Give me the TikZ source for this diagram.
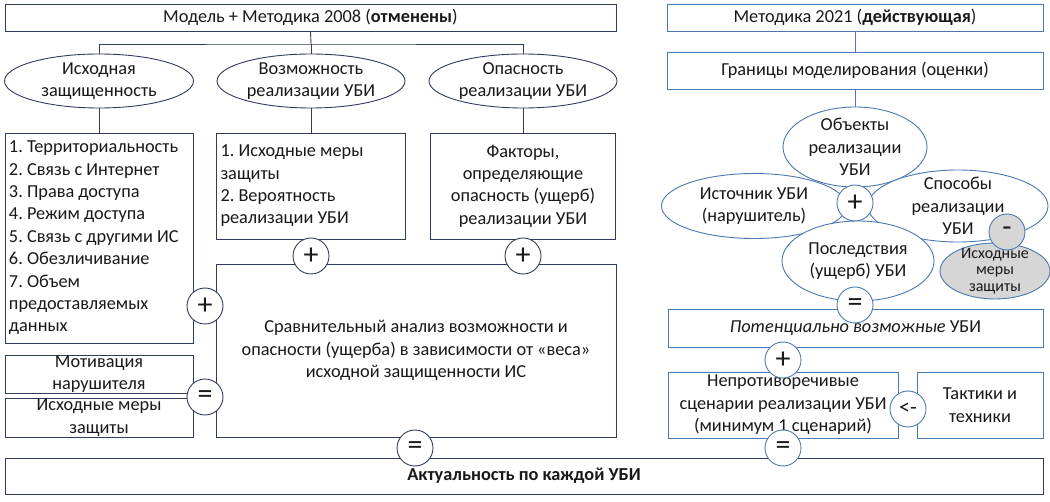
\documentclass[tikz,border=0pt]{standalone}
\usepackage{fontspec}
\setmainfont{Carlito}
\usetikzlibrary{shapes.geometric}
\definecolor{oldc}{RGB}{47,60,90}
\definecolor{newc}{RGB}{74,120,176}
\definecolor{greyc}{RGB}{214,214,214}
\frenchspacing

\begin{document}
\begin{tikzpicture}[
  x=1pt, y=-1pt,
  line width=0.9pt,
  every node/.style={font=\fontsize{18.3}{22.4}\selectfont, text=black!90},
  oldbox/.style={draw=oldc, fill=white, rectangle, inner sep=0pt, align=center},
  newbox/.style={draw=newc, fill=white, rectangle, inner sep=0pt, align=center},
  oval/.style={draw=oldc, fill=white, ellipse, inner sep=0pt},
  newoval/.style={draw=newc, fill=white, ellipse, inner sep=0pt},
  sign/.style={draw=oldc, fill=white, circle, minimum size=36pt, inner sep=0pt, font=\fontsize{30}{30}\selectfont},
  newsign/.style={sign, draw=newc}
]
\useasboundingbox (0,0) rectangle (1050,502);

% Model + Method 2008
\node [oldbox, minimum width=611pt, minimum height=27pt] (m08) at (310.5,17.5) {Модель + Методика 2008 (\textbf{отменены})};
\node [oval, minimum width=189pt, minimum height=54pt, label={[align=center]center:Исходная\\защищенность}] (ish) at (99,81) {};
\node [oval, minimum width=188pt, minimum height=54pt, label={[align=center]center:Возможность\\реализации УБИ}] (voz) at (311,81) {};
\node [oval, minimum width=188pt, minimum height=54pt, label={[align=center]center:Опасность\\реализации УБИ}] (opa) at (523,81) {};

\node [oldbox, align=flush left, text width=180pt, inner xsep=4pt, minimum height=210pt] (lst) at (99,238) {1. Территориальность\\2. Связь с Интернет\\3. Права доступа\\4. Режим доступа\\5. Связь с другими ИС\\6. Обезличивание\\7. Объем\\предоставляемых\\данных};
\node [oldbox, align=flush left, text width=181pt, inner xsep=4pt, minimum height=106pt] (mer) at (311,186) {1. Исходные меры\\защиты\\2. Вероятность\\реализации УБИ};
\node [oldbox, minimum width=185pt, minimum height=106pt] (fak) at (523,186) {Факторы,\\определяющие\\опасность (ущерб)\\реализации УБИ};
\node [oldbox, minimum width=400pt, minimum height=173pt] (sra) at (416,350.5) {Сравнительный анализ возможности и\\опасности (ущерба) в зависимости от «веса»\\исходной защищенности ИС};
\node [oldbox, minimum width=188pt, minimum height=38pt] (mot) at (99,374) {Мотивация\\нарушителя};
\node [oldbox, minimum width=188pt, minimum height=39pt] (isx) at (99,417.5) {Исходные меры\\защиты};
\node [oldbox, minimum width=1038pt, minimum height=36pt] (akt) at (524,476) {\textbf{Актуальность по каждой УБИ}};

\coordinate (bus) at (311,44);
\draw [oldc] (m08.south) -- (bus);
\draw [oldc] (ish.north) |- (bus) -| (opa.north);
\draw [oldc] (bus) -- (voz.north);
\draw [oldc] (ish.south) -- (lst.north);
\draw [oldc] (voz.south) -- (mer.north);
\draw [oldc] (opa.south) -- (fak.north);

\node [sign] (s1) at (311,256) {+};
\node [sign] (s2) at (523,256) {+};
\node [sign] (s3) at (205,306) {+};
\node [sign] (s4) at (205,397) {=};
\node [sign] (s5) at (415,448) {=};

% Method 2021
\node [newbox, minimum width=376pt, minimum height=27pt] (m21) at (855,17.5) {Методика 2021 (\textbf{действующая})};
\node [newbox, minimum width=376pt, minimum height=37pt] (gran) at (855,70.5) {Границы моделирования (оценки)};
\node [newoval, minimum width=144pt, minimum height=80pt, label={[align=center]center:Объекты\\реализации\\УБИ}] (obj) at (855,147) {};
\node [newoval, minimum width=185pt, minimum height=65pt, label={[align=center]center:Источник УБИ\\(нарушитель)}] (src) at (754,206) {};
\node [newoval, minimum width=180pt, minimum height=72pt, label={[align=center]center:Способы\\реализации\\УБИ}] (way) at (958,206) {};
\node [newoval, minimum width=152pt, minimum height=80pt, label={[align=center]center:Последствия\\(ущерб) УБИ}] (pos) at (858,261) {};
\node [newoval, fill=greyc, minimum width=110pt, minimum height=56pt, label={[align=center, font=\fontsize{16}{16.5}\selectfont]center:Исходные\\меры\\защиты}] (zas) at (995,271) {};

\node [newbox, minimum width=375pt, minimum height=38pt] (pot) at (855.5,328) {\textit{Потенциально возможные} УБИ};
\node [newbox, minimum width=230pt, minimum height=66pt] (sce) at (783,405) {Непротиворечивые\\сценарии реализации УБИ\\(минимум 1 сценарий)};
\node [newbox, minimum width=126pt, minimum height=66pt] (tak) at (980,405) {Тактики и\\техники};

\draw [newc] (m21.south) -- (gran.north);
\draw [newc] (gran.south) -- (obj.north);

\node [newsign] (r1) at (855,203) {+};
\node [newsign, fill=greyc] (r2) at (1007,232) {-};
\node [newsign] (r3) at (855,305) {=};
\node [newsign] (r4) at (783,360) {+};
\node [newsign, font=\fontsize{22}{22}\selectfont] (r5) at (908,409) {<-};
\node [newsign] (r6) at (783,448) {=};
\end{tikzpicture}
\end{document}
